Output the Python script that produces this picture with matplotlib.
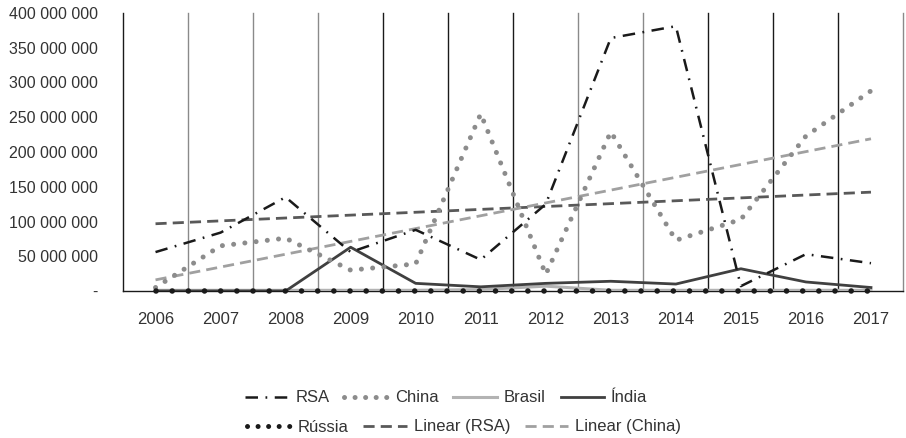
import matplotlib
matplotlib.use("Agg")
import matplotlib.pyplot as plt
import numpy as np
from matplotlib.lines import Line2D

plt.rcParams["font.family"] = ["Liberation Sans", "DejaVu Sans"]

years = ["2006", "2007", "2008", "2009", "2010", "2011",
         "2012", "2013", "2014", "2015", "2016", "2017"]

# values in units
rsa = [56e6, 84e6, 135e6, 56e6, 88e6, 45e6, 125e6, 364e6, 381e6, 7e6, 53e6, 40e6]
china = [5e6, 65e6, 76e6, 30e6, 39e6, 255e6, 24e6, 229e6, 73e6, 103e6, 223e6, 288e6]
brasil = [1e6, 1e6, 1e6, 1e6, 1e6, 2e6, 7e6, 1e6, 1e6, 1e6, 1e6, 1e6]
india = [0, 0, 0, 63e6, 11e6, 6e6, 11e6, 14e6, 10e6, 32e6, 13e6, 5e6]
russia = [0, 0, 0, 0, 0, 0, 0, 0, 0, 0, 0, 0]

y_ticks = [0, 50e6, 100e6, 150e6, 200e6, 250e6, 300e6, 350e6, 400e6]

TEXT = "#333333"

fig = plt.figure(figsize=(9.06, 4.38), dpi=100)
ax = fig.add_axes([123 / 906, 1 - 291 / 438, 780.5 / 906, 278 / 438])

x = np.arange(len(years))

# vertical separators between categories
sep_colors = ["#8a8a8a", "#8a8a8a", "#8a8a8a", "#1a1a1a", "#1a1a1a", "#1a1a1a",
              "#8a8a8a", "#8a8a8a", "#1a1a1a", "#1a1a1a", "#1a1a1a", "#8a8a8a"]
for i, c in enumerate(sep_colors):
    ax.axvline(i + 0.5, color=c, lw=1.0, zorder=1, clip_on=False)

# trend lines (Excel linear trendline)
k_rsa, b_rsa = np.polyfit(x, rsa, 1)
k_ch, b_ch = np.polyfit(x, china, 1)

ax.plot(x, brasil, color="#b3b3b3", lw=2.2, zorder=3)
ax.plot(x, india, color="#404040", lw=2.0, zorder=4)
ax.plot(x, k_rsa * x + b_rsa, color="#595959", lw=2.0, dashes=(4, 2.2), zorder=3)
ax.plot(x, k_ch * x + b_ch, color="#a0a0a0", lw=2.0, dashes=(4, 2.2), zorder=3)
ax.plot(x, china, color="#8c8c8c", lw=3.6, dashes=(0.01, 2.25),
        dash_capstyle="round", zorder=5)
ax.plot(x, rsa, color="#1a1a1a", lw=1.8, dashes=(5, 3, 0.7, 3), zorder=6)
ax.plot(x, russia, color="#1a1a1a", lw=4.0, dashes=(0.01, 2.9),
        dash_capstyle="round", zorder=7, clip_on=False)

ax.set_xlim(-0.5, 11.5)
ax.set_ylim(0, 400e6)
ax.set_xticks(x)
ax.set_xticklabels(years)
ax.set_yticks(y_ticks)
ax.set_yticklabels(["-" if v == 0 else f"{int(v):,}".replace(",", " ") for v in y_ticks])
ax.tick_params(axis="both", length=0, colors=TEXT)
ax.tick_params(axis="y", pad=18, labelsize=11.5)
ax.tick_params(axis="x", pad=15, labelsize=12)

for s in ["top", "right"]:
    ax.spines[s].set_visible(False)
ax.spines["left"].set_color("#1a1a1a")
ax.spines["bottom"].set_color("#1a1a1a")
ax.spines["left"].set_linewidth(1.0)
ax.spines["bottom"].set_linewidth(1.0)

h_rsa = Line2D([], [], color="#1a1a1a", lw=1.8, dashes=(5, 3, 0.7, 3))
h_china = Line2D([], [], color="#8c8c8c", lw=3.6, dashes=(0.01, 2.1), dash_capstyle="round")
h_brasil = Line2D([], [], color="#b3b3b3", lw=2.2)
h_india = Line2D([], [], color="#404040", lw=2.0)
h_russia = Line2D([], [], color="#1a1a1a", lw=3.6, dashes=(0.01, 2.1), dash_capstyle="round")
h_lrsa = Line2D([], [], color="#595959", lw=2.0, dashes=(4, 2.2))
h_lch = Line2D([], [], color="#a0a0a0", lw=2.0, dashes=(4, 2.2))

common = dict(frameon=False, fontsize=12, handlelength=2.6, handletextpad=0.42,
              columnspacing=0.9, borderpad=0, borderaxespad=0, labelcolor=TEXT)
leg1 = fig.legend([h_rsa, h_china, h_brasil, h_india],
                  ["RSA", "China", "Brasil", "Índia"], ncol=4,
                  loc="center left", bbox_to_anchor=(245 / 906, 1 - 398 / 438), **common)
leg2 = fig.legend([h_russia, h_lrsa, h_lch],
                  ["Rússia", "Linear (RSA)", "Linear (China)"], ncol=3,
                  loc="center left", bbox_to_anchor=(247 / 906, 1 - 427 / 438), **common)

fig.savefig("out.png", dpi=100)
